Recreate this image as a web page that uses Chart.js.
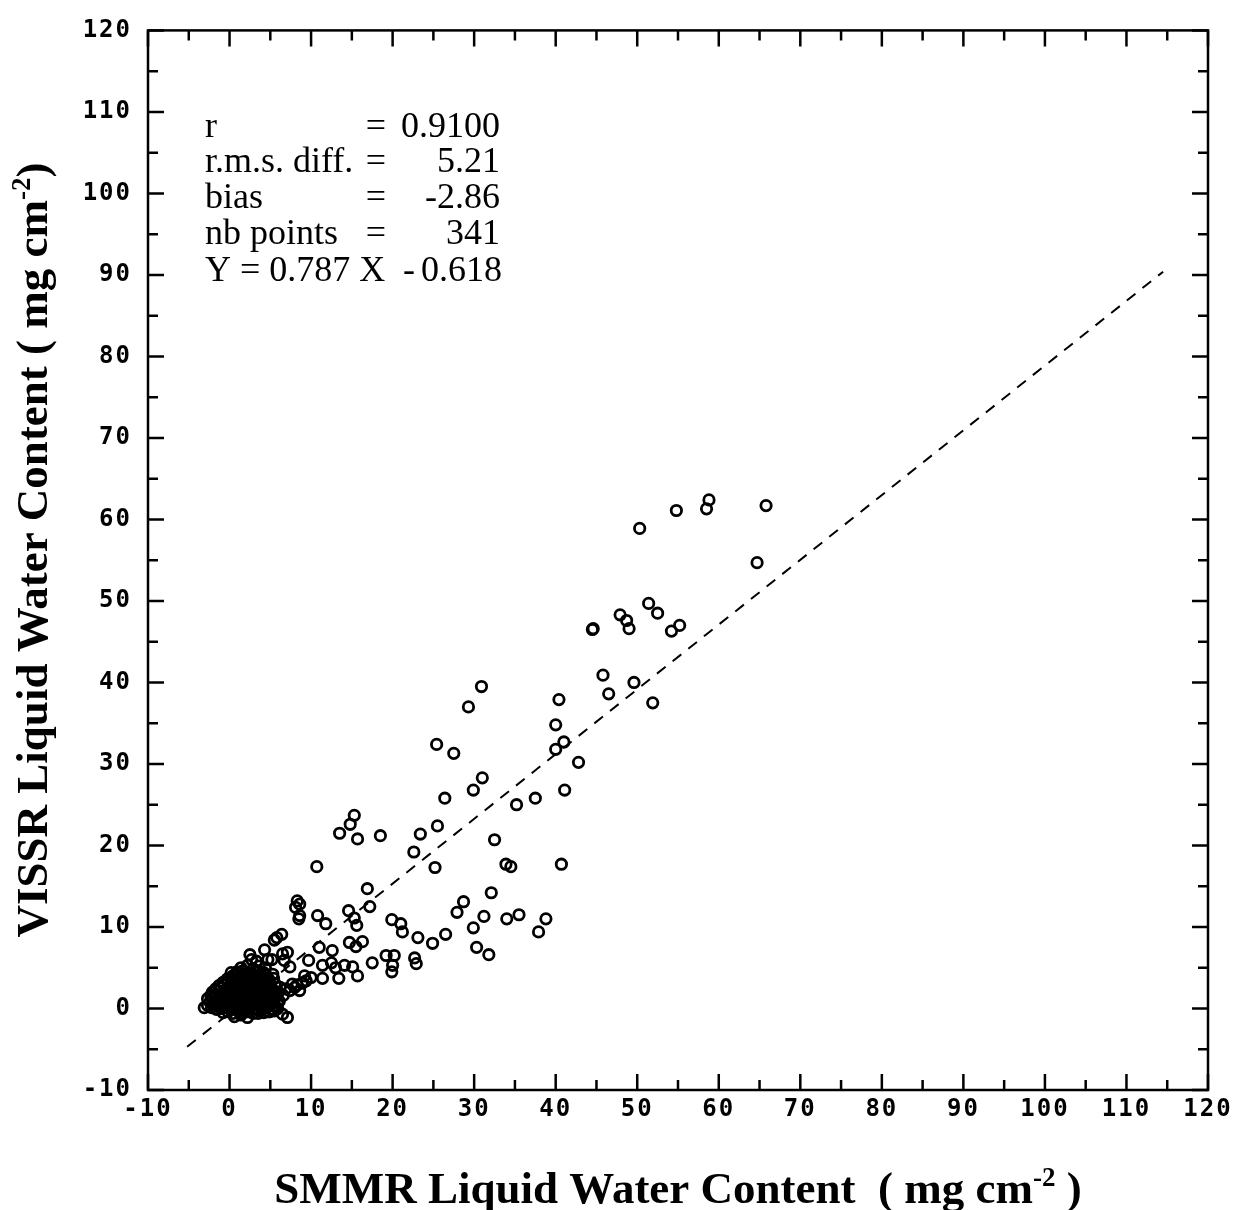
<!DOCTYPE html>
<html>
  <head>
    <meta charset="UTF-8" />
    <title>VISSR vs SMMR Liquid Water Content</title>
    <script src="https://cdn.jsdelivr.net/npm/chart.js"></script>
    <style>
      body { margin: 0; background: #fff; }
      #wrap { width: 1248px; height: 1210px; position: relative; }
    </style>
  </head>
  <body>
    <div id="wrap"><canvas id="lwcChart"></canvas></div>
    <script>
      // Points: [SMMR, VISSR] in mg cm-2.
      // Dense clump near the origin (mostly overlapping circles).
      const clusterPoints = [
        [0.6,-1.0],[2.2,-1.1],[3.5,-0.6],[4.8,-0.4],[6.5,-0.7],[7.1,-1.1],[1.4,-0.8],[5.9,0.0],[-3.1,0.1],
        [-0.8,-0.5],[-0.2,-0.4],[0.4,-0.6],[1.0,-0.3],[1.6,-0.5],[2.3,-0.4],[2.9,-0.6],[3.6,-0.3],[4.2,-0.5],[4.9,-0.4],[5.5,-0.3],
        [-2.2,0.1],[-1.6,-0.1],[-1.0,0.0],[-0.5,0.1],[0.1,-0.1],[0.7,0.0],[1.2,0.1],[1.8,-0.1],[2.4,0.0],[3.0,0.1],[3.5,-0.1],[4.1,0.0],[4.6,0.1],[5.2,-0.1],
        [-2.7,0.4],[-2.0,0.5],[-1.3,0.3],[-0.8,0.4],[-0.2,0.5],[0.3,0.3],[0.9,0.4],[1.4,0.5],[2.0,0.3],[2.6,0.4],[3.1,0.5],[3.7,0.3],[4.3,0.4],[4.9,0.5],[5.6,0.3],
        [-2.4,0.8],[-1.8,0.9],[-1.1,0.7],[-0.5,0.8],[0.1,0.9],[0.6,0.7],[1.2,0.8],[1.7,0.9],[2.3,0.7],[2.9,0.8],[3.4,0.9],[4.0,0.7],[4.6,0.8],[5.2,0.9],[5.9,0.7],
        [-2.7,1.2],[-2.1,1.3],[-1.5,1.1],[-0.9,1.2],[-0.3,1.3],[0.3,1.1],[0.9,1.2],[1.5,1.3],[2.0,1.1],[2.6,1.2],[3.1,1.3],[3.7,1.1],[4.3,1.2],[4.9,1.3],[5.5,1.1],
        [-2.3,1.6],[-1.7,1.7],[-1.1,1.5],[-0.6,1.6],[0.0,1.7],[0.6,1.5],[1.1,1.6],[1.7,1.7],[2.3,1.5],[2.8,1.6],[3.4,1.7],[4.0,1.5],[4.5,1.6],[5.1,1.7],[5.7,1.5],
        [-2.1,2.0],[-1.4,2.1],[-0.8,1.9],[-0.2,2.0],[0.4,2.1],[1.0,1.9],[1.5,2.0],[2.1,2.1],[2.7,1.9],[3.2,2.0],[3.8,2.1],[4.4,1.9],[4.9,2.0],[5.5,2.1],
        [-1.7,2.4],[-1.1,2.5],[-0.5,2.3],[0.1,2.4],[0.7,2.5],[1.3,2.3],[1.8,2.4],[2.4,2.5],[3.0,2.3],[3.5,2.4],[4.1,2.5],[4.7,2.3],[5.2,2.4],
        [-1.3,2.8],[-0.7,2.9],[-0.1,2.7],[0.5,2.8],[1.0,2.9],[1.6,2.7],[2.2,2.8],[2.7,2.9],[3.3,2.7],[3.9,2.8],[4.4,2.9],[5.0,2.7],
        [-0.8,3.2],[-0.2,3.3],[0.4,3.1],[0.9,3.2],[1.5,3.3],[2.1,3.1],[2.6,3.2],[3.2,3.3],[3.8,3.1],[4.3,3.2],[4.9,3.3],
        [-0.3,3.6],[0.3,3.7],[0.9,3.5],[1.4,3.6],[2.0,3.7],[2.6,3.5],[3.1,3.6],[3.7,3.7],[4.3,3.5],[4.8,3.6],
        [0.4,4.0],[1.0,4.1],[1.6,3.9],[2.2,4.0],[2.8,4.1],[3.4,3.9],[3.9,4.0],[4.5,4.1],
        [0.2,4.4],[0.9,4.5],[1.6,4.6],[2.3,4.4],[3.0,4.5],[3.6,4.6],[4.2,4.4],[5.3,4.2],
        [1.4,5.0],[2.2,5.3],[2.9,4.9],[3.6,5.2],[4.4,5.0],
        [2.5,6.6],[2.7,6.0],[4.7,6.0],[3.3,5.8],
        [6.1,0.9],[6.6,1.6],[6.0,2.0],[5.6,3.0],[5.4,3.7],[6.2,2.6],
        [7.4,2.2],[8.0,2.6],[8.6,2.2],[8.9,3.1],[9.4,3.4],[10.0,3.8],[9.2,4.0],[7.7,3.0],[6.9,2.4],[8.3,2.9]
      ];

      // Scattered points away from the clump.
      const spreadPoints = [
        [4.3,7.2],[5.8,8.7],[6.4,9.1],[5.5,8.4],[6.5,6.7],[7.1,6.9],[6.7,5.9],[5.2,6.0],[7.4,5.1],[9.7,5.9],
        [11.4,5.3],[11.4,3.7],[13.4,3.7],[12.5,5.6],[13.0,5.0],[14.1,5.3],[15.1,5.1],[15.7,4.0],[17.5,5.6],
        [8.3,13.2],[8.1,12.4],[8.6,12.8],[8.5,11.0],[8.6,11.4],[10.7,17.4],[16.9,14.7],[17.2,12.5],
        [10.8,11.4],[11.8,10.4],[14.6,12.0],[15.3,11.1],[15.6,10.2],[14.7,8.1],[15.5,7.6],[16.3,8.2],
        [11.0,7.5],[12.6,7.1],[19.2,6.5],[20.2,6.5],[20.0,5.3],[19.9,4.5],[19.9,10.9],[21.0,10.4],[21.2,9.4],
        [23.1,8.7],[26.5,9.1],[24.9,8.0],[22.7,6.2],[22.9,5.5],
        [32.1,14.2],[28.7,13.1],[27.9,11.8],[31.2,11.3],[29.9,9.9],[34.0,11.0],[35.5,11.5],[38.8,11.0],
        [37.9,9.4],[30.3,7.5],[31.8,6.6],
        [15.3,23.7],[14.8,22.6],[13.5,21.5],[15.7,20.8],[18.5,21.2],[23.4,21.4],[25.5,22.4],[22.6,19.2],
        [32.5,20.7],[25.2,17.3],[33.9,17.7],[34.5,17.4],[40.7,17.7],
        [26.4,25.8],[29.9,26.8],[35.2,25.0],[37.5,25.8],[41.1,26.8],[31.0,28.3],
        [25.4,32.4],[27.5,31.3],[41.0,32.7],[40.0,31.8],[42.8,30.2],[40.0,34.8],
        [30.9,39.5],[29.3,37.0],[40.4,37.9],[45.8,40.9],[49.6,40.0],[46.5,38.6],[51.9,37.5],
        [44.5,46.5],[44.6,46.6],[47.9,48.3],[48.7,47.6],[49.0,46.6],[51.4,49.7],[52.5,48.5],[55.2,47.0],[54.2,46.3],
        [50.3,58.9],[54.8,61.1],[58.5,61.3],[58.8,62.4],[65.8,61.7],[64.7,54.7]
      ];

      // Ends of the dashed fit line Y = 0.787 X - 0.618, as drawn.
      const fitLineX = [-5.2, 114.5];
      const fitLineY = [-4.7, 90.4];

      const statLabels = ["r", "r.m.s. diff.", "bias", "nb points"];
      const statValues = ["0.9100", "5.21", "-2.86", "341"];

      const xTitle = ["SMMR Liquid Water Content  ( mg cm", "-2", " )"];
      const yTitle = ["VISSR Liquid Water Content ( mg cm", "-2", ")"];

      const toXY = p => ({ x: p[0], y: p[1] });

      // draws a title with a superscript piece, centred on (0,0) of the current transform
      function drawSupTitle(ctx, parts, size) {
        const big = `bold ${size}px "Liberation Serif", "Times New Roman", serif`;
        const small = `bold ${Math.round(size * 0.6)}px "Liberation Serif", "Times New Roman", serif`;
        ctx.font = big;
        const w0 = ctx.measureText(parts[0]).width;
        const w2 = ctx.measureText(parts[2]).width;
        ctx.font = small;
        const w1 = ctx.measureText(parts[1]).width;
        let x = -(w0 + w1 + w2) / 2;
        ctx.textAlign = "left";
        ctx.textBaseline = "alphabetic";
        ctx.font = big;
        ctx.fillText(parts[0], x, 0);
        x += w0;
        ctx.font = small;
        ctx.fillText(parts[1], x, -size * 0.38);
        x += w1;
        ctx.font = big;
        ctx.fillText(parts[2], x, 0);
      }

      // frame, inward ticks on all four sides, axis titles and the stats box
      const frameAndText = {
        id: "frameAndText",
        beforeDraw(chart) {
          chart.ctx.letterSpacing = "2px";
        },
        afterDraw(chart) {
          const { ctx, chartArea: a, scales } = chart;
          const xs = scales.x, ys = scales.y;
          ctx.save();
          ctx.letterSpacing = "0px";
          ctx.strokeStyle = "#000";
          ctx.lineWidth = 2.5;
          ctx.strokeRect(a.left, a.top, a.right - a.left, a.bottom - a.top);
          ctx.beginPath();
          for (let v = -10; v <= 120; v += 5) {
            const len = v % 10 === 0 ? 16 : 10;
            const px = xs.getPixelForValue(v);
            const py = ys.getPixelForValue(v);
            ctx.moveTo(px, a.bottom); ctx.lineTo(px, a.bottom - len);
            ctx.moveTo(px, a.top); ctx.lineTo(px, a.top + len);
            ctx.moveTo(a.left, py); ctx.lineTo(a.left + len, py);
            ctx.moveTo(a.right, py); ctx.lineTo(a.right - len, py);
          }
          ctx.stroke();

          ctx.fillStyle = "#000";
          // x title
          ctx.save();
          ctx.translate((a.left + a.right) / 2, 1203);
          drawSupTitle(ctx, xTitle, 45);
          ctx.restore();
          // y title
          ctx.save();
          ctx.translate(47, 550);
          ctx.rotate(-Math.PI / 2);
          drawSupTitle(ctx, yTitle, 45);
          ctx.restore();

          // stats text
          ctx.font = '36px "Liberation Serif", "Times New Roman", serif';
          ctx.textBaseline = "alphabetic";
          const base = [137, 172, 208, 244];
          statLabels.forEach((lab, i) => {
            ctx.textAlign = "left";
            ctx.fillText(lab, 205, base[i]);
            ctx.textAlign = "center";
            ctx.fillText("=", 376, base[i]);
            ctx.textAlign = "right";
            ctx.fillText(statValues[i], 500, base[i]);
          });
          ctx.textAlign = "left";
          ctx.fillText("Y = 0.787 X", 205, 281);
          ctx.textAlign = "center";
          ctx.fillText("-", 409, 281);
          ctx.textAlign = "right";
          ctx.fillText("0.618", 502, 281);
          ctx.restore();
        }
      };

      const tickFont = { family: '"DejaVu Sans Mono", monospace', size: 24, weight: "bold" };

      new Chart(document.getElementById("lwcChart"), {
        type: "scatter",
        data: {
          datasets: [
            {
              type: "line",
              data: fitLineX.map((x, i) => ({ x: x, y: fitLineY[i] })),
              borderColor: "#000",
              borderWidth: 2,
              borderDash: [11, 9],
              pointRadius: 0,
              fill: false
            },
            {
              data: clusterPoints.concat(spreadPoints).map(toXY),
              pointStyle: "circle",
              pointRadius: 5.2,
              borderColor: "#000",
              borderWidth: 2.8,
              backgroundColor: "rgba(0,0,0,0)"
            }
          ]
        },
        plugins: [frameAndText],
        options: {
          responsive: true,
          maintainAspectRatio: false,
          animation: false,
          layout: { padding: { top: 27, right: 40, left: 0, bottom: 0 } },
          plugins: { legend: { display: false }, tooltip: { enabled: false } },
          scales: {
            x: {
              type: "linear",
              min: -10,
              max: 120,
              afterFit: s => { s.height = 120; },
              grid: { display: false, drawTicks: false },
              border: { display: false },
              ticks: { stepSize: 10, autoSkip: false, maxRotation: 0, padding: 5, color: "#000", font: tickFont }
            },
            y: {
              type: "linear",
              min: -10,
              max: 120,
              afterFit: s => { s.width = 148; },
              grid: { display: false, drawTicks: false },
              border: { display: false },
              ticks: { stepSize: 10, autoSkip: false, padding: 16, color: "#000", font: tickFont }
            }
          }
        }
      });
    </script>
  </body>
</html>
